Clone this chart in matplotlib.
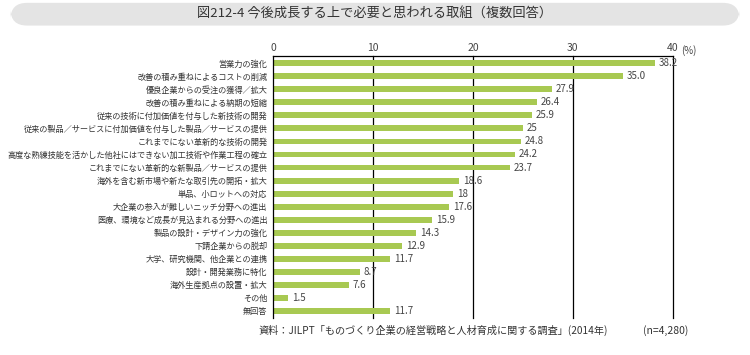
import matplotlib.pyplot as plt
from matplotlib.patches import FancyBboxPatch

plt.rcParams['font.family'] = ['Noto Sans CJK JP', 'DejaVu Sans']

# データ
categories = ["営業力の強化", "改善の積み重ねによるコストの削減", "優良企業からの受注の獲得／拡大",
              "改善の積み重ねによる納期の短縮", "従来の技術に付加価値を付与した新技術の開発",
              "従来の製品／サービスに付加価値を付与した製品／サービスの提供",
              "これまでにない革新的な技術の開発",
              "高度な熟練技能を活かした他社にはできない加工技術や作業工程の確立",
              "これまでにない革新的な新製品／サービスの提供",
              "海外を含む新市場や新たな取引先の開拓・拡大", "単品、小ロットへの対応",
              "大企業の参入が難しいニッチ分野への進出", "医療、環境など成長が見込まれる分野への進出",
              "製品の設計・デザイン力の強化", "下請企業からの脱却", "大学、研究機関、他企業との連携",
              "設計・開発業務に特化", "海外生産拠点の設置・拡大", "その他", "無回答"]
values = [38.2, 35.0, 27.9, 26.4, 25.9, 25, 24.8, 24.2, 23.7, 18.6, 18, 17.6, 15.9,
          14.3, 12.9, 11.7, 8.7, 7.6, 1.5, 11.7]
value_labels = ["38.2", "35.0", "27.9", "26.4", "25.9", "25", "24.8", "24.2", "23.7", "18.6",
                "18", "17.6", "15.9", "14.3", "12.9", "11.7", "8.7", "7.6", "1.5", "11.7"]
xticks = [0, 10, 20, 30, 40]

fig = plt.figure(figsize=(7.5, 3.55), dpi=100)

# タイトル枠
box = FancyBboxPatch((0.014, 0.928), 0.972, 0.064, boxstyle="round,pad=0,rounding_size=0.022",
                     transform=fig.transFigure, facecolor="#e4e4e4", edgecolor="none",
                     mutation_aspect=2.1)
fig.patches.append(box)
fig.text(0.5, 0.96, "図212-4 今後成長する上で必要と思われる取組（複数回答）",
         ha="center", va="center", fontsize=9.5, color="#333333")

ax = fig.add_axes([0.364, 0.104, 0.533, 0.738])
y = list(range(len(categories)))
ax.barh(y, values, height=0.45, color="#a8c952")
ax.set_xlim(0, 40)
ax.set_ylim(len(categories) - 0.45, -0.55)

for i, (v, s) in enumerate(zip(values, value_labels)):
    ax.text(v + 0.4, i, s, va="center", ha="left", fontsize=7, color="#444444")

# 縦線
for x in xticks[1:]:
    ax.axvline(x, color="black", lw=0.9, zorder=0, clip_on=False)

ax.xaxis.tick_top()
ax.set_xticks(xticks)
ax.set_xticklabels([str(t) for t in xticks], fontsize=7.5, color="#444444")
ax.tick_params(axis="x", length=0, pad=2)
ax.set_yticks(y)
ax.set_yticklabels(categories, fontsize=5.9, color="#333333")
ax.tick_params(axis="y", length=0, pad=4)
ax.spines["right"].set_visible(False)
ax.spines["bottom"].set_visible(False)
ax.spines["top"].set_linewidth(0.9)
ax.spines["left"].set_linewidth(0.9)
ax.text(40.8, -0.55, "(%)", fontsize=7, color="#444444", va="bottom", ha="left")

fig.text(0.345, 0.07, "資料：JILPT「ものづくり企業の経営戦略と人材育成に関する調査」(2014年)",
         fontsize=7.3, color="#333333", va="center")
fig.text(0.857, 0.07, "(n=4,280)", fontsize=7.5, color="#333333", va="center")

plt.savefig("out.png", dpi=100)
